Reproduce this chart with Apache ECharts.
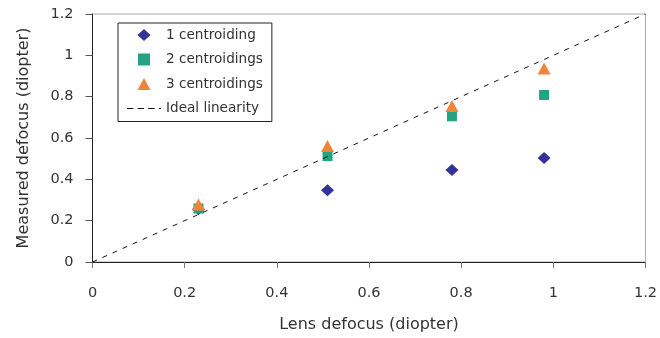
<!DOCTYPE html>
<html><head><meta charset="utf-8">
<script src="https://cdn.jsdelivr.net/npm/echarts@6/dist/echarts.min.js"></script>
<style>html,body{margin:0;padding:0;background:#fff}#c{width:660px;height:338px}</style>
</head><body><div id="c"></div>
<script>
const lensDefocus = [0.23, 0.51, 0.78, 0.98];
const oneCentroiding = [0.255, 0.347, 0.445, 0.503];
const twoCentroidings = [0.259, 0.513, 0.705, 0.808];
const threeCentroidings = [0.278, 0.561, 0.755, 0.936];
const idealX = [0, 1.2];
const idealY = [0, 1.2];
const seriesNames = ['1 centroiding', '2 centroidings', '3 centroidings', 'Ideal linearity'];

const pair = (xs, ys) => xs.map((x, i) => [x, ys[i]]);
const font = 'DejaVu Sans, sans-serif';
const txt = '#333';
const chart = echarts.init(document.getElementById('c'));
chart.setOption({
  animation: false,
  textStyle: { fontFamily: font },
  grid: { left: 92.5, right: 10, top: 14, bottom: 76, show: true, borderColor: '#aaa', borderWidth: 1 },
  legend: {
    orient: 'vertical', left: 118, top: 23,
    borderColor: '#222', borderWidth: 1, padding: [4, 9, 5, 9],
    itemGap: 8.5, itemWidth: 34, itemHeight: 12, symbolKeepAspect: true,
    textStyle: { fontSize: 13.6, color: txt, fontFamily: font, lineHeight: 16 },
    data: [
      { name: seriesNames[0], icon: 'path://M6.5,0L13,6L6.5,12L0,6Z' },
      { name: seriesNames[1], icon: 'path://M0,0H10V10H0Z' },
      { name: seriesNames[2], icon: 'path://M6.5,0L13,12L0,12Z' },
      { name: seriesNames[3], icon: 'path://M0,0H6V1.1H0ZM10,0H16V1.1H10ZM20,0H26V1.1H20ZM30,0H32V1.1H30Z' }
    ]
  },
  xAxis: {
    type: 'value', min: 0, max: 1.2, interval: 0.2,
    name: 'Lens defocus (diopter)', nameLocation: 'middle', nameGap: 55,
    nameTextStyle: { fontSize: 16, color: txt },
    axisLine: { lineStyle: { color: '#222' } },
    axisTick: { show: true, length: 6, lineStyle: { color: '#777' } },
    axisLabel: { fontSize: 14.5, color: txt, margin: 24, formatter: v => String(+v.toFixed(1)) },
    splitLine: { show: false }
  },
  yAxis: {
    type: 'value', min: 0, max: 1.2, interval: 0.2,
    name: 'Measured defocus (diopter)', nameLocation: 'middle', nameGap: 61, nameRotate: 90,
    nameTextStyle: { fontSize: 16, color: txt },
    axisLine: { show: true, lineStyle: { color: '#222' } },
    axisTick: { show: true, length: 7, lineStyle: { color: '#555' } },
    axisLabel: { fontSize: 14.5, color: txt, margin: 19, formatter: v => String(+v.toFixed(1)) },
    splitLine: { show: false }
  },
  series: [
    { name: seriesNames[0], type: 'scatter', data: pair(lensDefocus, oneCentroiding), symbol: 'diamond', symbolSize: [13, 12], z: 2,
      itemStyle: { color: '#333399', opacity: 1 } },
    { name: seriesNames[1], type: 'scatter', data: pair(lensDefocus, twoCentroidings), symbol: 'rect', symbolSize: 10, z: 3,
      itemStyle: { color: '#22A383', opacity: 1 } },
    { name: seriesNames[2], type: 'scatter', data: pair(lensDefocus, threeCentroidings), symbol: 'triangle', symbolSize: [13, 12], z: 4,
      itemStyle: { color: '#F0853A', opacity: 1 } },
    { name: seriesNames[3], type: 'line', data: pair(idealX, idealY), symbol: 'none', z: 5,
      lineStyle: { color: '#111', width: 1, type: [5, 6] }, itemStyle: { color: '#111' } }
  ]
});
</script></body></html>
